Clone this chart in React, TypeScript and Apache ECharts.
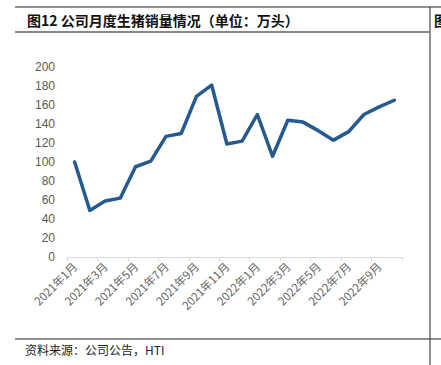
import React, { useEffect, useRef } from "react";
import * as echarts from "echarts";

const categories = [
  "2021年1月", "2021年2月", "2021年3月", "2021年4月", "2021年5月", "2021年6月",
  "2021年7月", "2021年8月", "2021年9月", "2021年10月", "2021年11月", "2021年12月",
  "2022年1月", "2022年2月", "2022年3月", "2022年4月", "2022年5月", "2022年6月",
  "2022年7月", "2022年8月", "2022年9月", "2022年10月",
];
const sales = [100, 49, 59, 62, 95, 101, 127, 130, 169, 181, 119, 122, 150, 106, 144, 142, 133, 123, 132, 150, 158, 165];
const yTicks = { min: 0, max: 200, interval: 20 };
const titleText = "图12 公司月度生猪销量情况（单位：万头）";
const sourceText = "资料来源：公司公告，HTI";

export default function App() {
  const ref = useRef<HTMLDivElement>(null);
  useEffect(() => {
    if (!ref.current) return;
    const chart = echarts.init(ref.current, null, { renderer: "svg" });
    chart.setOption({
      animation: false,
      backgroundColor: "#ffffff",
      grid: { left: 67, right: 39, top: 67, bottom: 108 },
      xAxis: {
        type: "category",
        data: categories,
        boundaryGap: true,
        axisLine: { lineStyle: { color: "#d9d9d9", width: 1 } },
        axisTick: { show: true, interval: 1, length: 4, lineStyle: { color: "#d9d9d9" } },
        axisLabel: {
          interval: 1,
          rotate: 45,
          color: "#666666",
          fontSize: 11.5,
          fontFamily: "Noto Sans CJK SC",
          margin: 7,
        },
      },
      yAxis: {
        type: "value",
        min: yTicks.min,
        max: yTicks.max,
        interval: yTicks.interval,
        axisLine: { show: false },
        axisTick: { show: false },
        splitLine: { show: false },
        axisLabel: { color: "#595959", fontSize: 12, fontFamily: "Liberation Sans", margin: 12 },
      },
      series: [
        {
          type: "line",
          data: sales,
          symbol: "none",
          lineStyle: { color: "#245a8e", width: 3.5, cap: "round", join: "round" },
        },
      ],
      graphic: [
        { type: "line", shape: { x1: 15, y1: 7, x2: 441, y2: 7 }, style: { stroke: "#222", lineWidth: 1 } },
        { type: "line", shape: { x1: 430, y1: 7, x2: 430, y2: 365 }, style: { stroke: "#222", lineWidth: 1 } },
        { type: "line", shape: { x1: 15, y1: 32, x2: 430, y2: 32 }, style: { stroke: "#888", lineWidth: 2 } },
        { type: "line", shape: { x1: 15, y1: 339, x2: 441, y2: 339 }, style: { stroke: "#222", lineWidth: 1 } },
        {
          type: "text",
          x: 27,
          y: 20,
          style: {
            text: titleText,
            font: "bold 14px 'Noto Sans CJK SC'",
            fill: "#111",
            textVerticalAlign: "middle",
          },
        },
        {
          type: "text",
          x: 25,
          y: 349,
          style: {
            text: sourceText,
            font: "12px 'Noto Sans CJK SC'",
            fill: "#222",
            textVerticalAlign: "middle",
          },
        },
        {
          type: "text",
          x: 434,
          y: 20,
          style: { text: "图", font: "bold 14px 'Noto Sans CJK SC'", fill: "#111", textVerticalAlign: "middle" },
        },
      ],
    });
    return () => chart.dispose();
  }, []);
  return <div ref={ref} style={{ width: 441, height: 365, position: "absolute", left: 0, top: 0 }} />;
}
